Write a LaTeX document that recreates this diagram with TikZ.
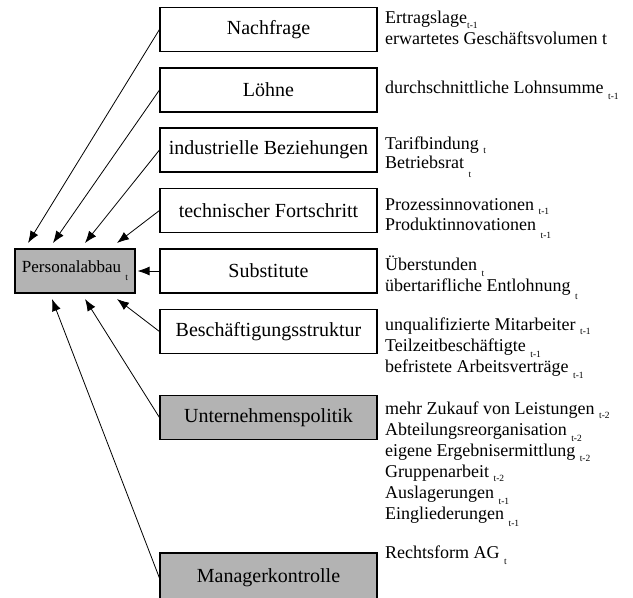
\documentclass[tikz,border=0pt]{standalone}
\usepackage{fontspec}
\setmainfont{Liberation Serif}
\usetikzlibrary{arrows.meta}
\definecolor{boxgray}{RGB}{179,179,179}
\newcommand{\lowsub}[2]{\raisebox{-#1pt}{\fontsize{9.5}{9.5}\selectfont #2}}
\begin{document}
\begin{tikzpicture}[x=1pt,y=-1pt,
  factor/.style={draw, line width=1.1pt, minimum width=217pt, minimum height=44pt, inner sep=0pt, fill=white, font=\fontsize{20}{20}\selectfont},
  grayfactor/.style={factor, fill=boxgray},
  rt/.style={anchor=base west, inner sep=0pt, font=\fontsize{18}{18}\selectfont},
  arr/.style={-{Latex[length=12pt,width=9pt]}, line width=0.8pt}]
\useasboundingbox (0,0) rectangle (633,598);

% left target box
\node[draw, line width=1.1pt, fill=boxgray, minimum width=120pt, minimum height=44pt, inner sep=0pt,
      font=\fontsize{17}{17}\selectfont] (pa) at (75,271) {Personalabbau\ \lowsub{8}{t}};

% factor boxes
\node[factor] (nach) at (268.5,29.5) {Nachfrage};
\node[factor] (loehne) at (268.5,90) {Löhne};
\node[factor] (indus) at (268.5,150) {industrielle Beziehungen};
\node[factor] (tech) at (268.5,210.5) {technischer Fortschritt};
\node[factor] (subst) at (268.5,271) {Substitute};
\node[factor] (besch) at (268.5,331.5) {Beschäftigungsstruktur};
\node[grayfactor] (unter) at (268.5,417.5) {Unternehmenspolitik};
\node[grayfactor, minimum height=50pt] (manager) at (268.5,578) {Managerkontrolle};

% arrow tips
\coordinate (t1) at (28,243);
\coordinate (t2) at (53,243);
\coordinate (t3) at (85,243);
\coordinate (t4) at (117,243);
\coordinate (b1) at (117,299);
\coordinate (b2) at (85,299);
\coordinate (b3) at (52,299);

\draw[arr] (nach.west) -- (t1);
\draw[arr] (loehne.west) -- (t2);
\draw[arr] (indus.west) -- (t3);
\draw[arr] (tech.west) -- (t4);
\draw[arr, shorten >=2pt] (subst.west) -- (pa.east);
\draw[arr] (besch.west) -- (b1);
\draw[arr] (unter.west) -- (b2);
\draw[arr] (manager.west) -- (b3);

% right-hand indicator lists
\node[rt] (n1) at (385,23) {Ertragslage\lowsub{5}{t-1}};
\node[rt] (n2) at (385,44) {erwartetes Geschäftsvolumen t};
\node[rt] (l1) at (385,93) {durchschnittliche Lohnsumme \lowsub{6}{t-1}};
\node[rt] (i1) at (385,149) {Tarifbindung \lowsub{4}{t}};
\node[rt] (i2) at (385,168) {Betriebsrat \lowsub{9}{t}};
\node[rt] (f1) at (385,210) {Prozessinnovationen \lowsub{4}{t-1}};
\node[rt] (f2) at (385,230) {Produktinnovationen \lowsub{8}{t-1}};
\node[rt] (s1) at (385,270) {Überstunden \lowsub{6}{t}};
\node[rt] (s2) at (385,291) {übertarifliche Entlohnung \lowsub{8}{t}};
\node[rt] (b1t) at (385,330) {unqualifizierte Mitarbeiter \lowsub{4}{t-1}};
\node[rt] (b2t) at (385,351) {Teilzeitbeschäftigte \lowsub{6}{t-1}};
\node[rt] (b3t) at (385,372) {befristete Arbeitsverträge \lowsub{6}{t-1}};
\node[rt] (u1) at (385,414) {mehr Zukauf von Leistungen \lowsub{4}{t-2}};
\node[rt] (u2) at (385,435) {Abteilungsreorganisation \lowsub{6}{t-2}};
\node[rt] (u3) at (385,456) {eigene Ergebnisermittlung \lowsub{5}{t-2}};
\node[rt] (u4) at (385,477) {Gruppenarbeit \lowsub{4}{t-2}};
\node[rt] (u5) at (385,498) {Auslagerungen \lowsub{6}{t-1}};
\node[rt] (u6) at (385,519) {Eingliederungen \lowsub{7}{t-1}};
\node[rt] (m1) at (385,558) {Rechtsform AG \lowsub{6}{t}};
\end{tikzpicture}
\end{document}
